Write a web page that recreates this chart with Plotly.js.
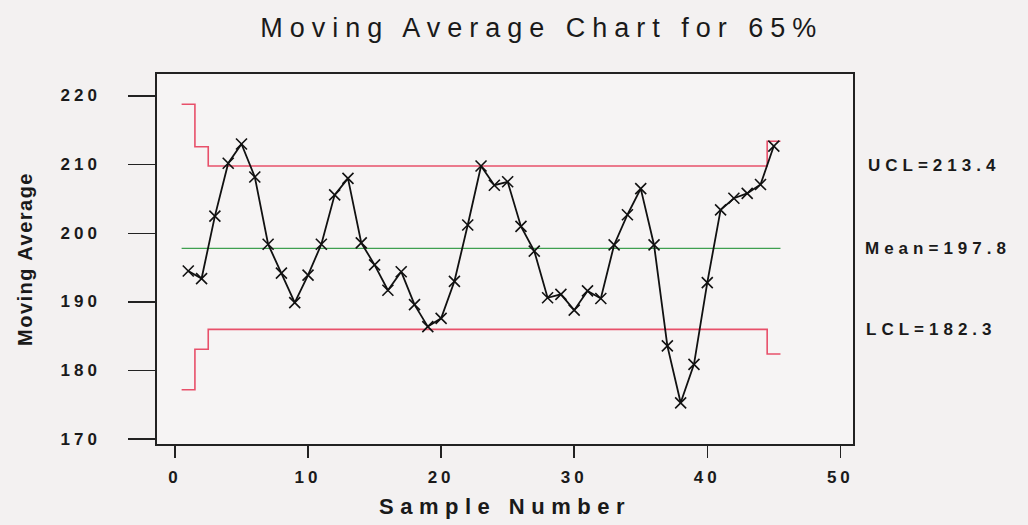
<!DOCTYPE html>
<html>
<head>
<meta charset="utf-8">
<script src="https://cdn.plot.ly/plotly-3.0.1.min.js"></script>
<style>
  html, body { margin: 0; padding: 0; background: #f3f1f1; }
  #chart { width: 1028px; height: 525px; }
  .gtitle { letter-spacing: 7px; }
  .xtick text { letter-spacing: 4px; }
  .g-xtitle text { letter-spacing: 6.5px; }
  .g-ytitle text { letter-spacing: 1.5px; }
  .annotation-text { letter-spacing: 5px; }
  .ylab .annotation-text { letter-spacing: 4px; }
</style>
</head>
<body>
<div id="chart"></div>
<script>
// Moving average values (samples 1..45)
const movingAverage = [
  194.5, 193.4, 202.5, 210.2, 213.0, 208.2, 198.4, 194.2, 189.9, 193.9,
  198.4, 205.6, 208.0, 198.6, 195.4, 191.7, 194.4, 189.6, 186.4, 187.6,
  193.0, 201.2, 209.8, 207.0, 207.5, 201.0, 197.4, 190.6, 191.1, 188.8,
  191.6, 190.5, 198.3, 202.7, 206.5, 198.3, 183.6, 175.3, 180.9, 192.8,
  203.4, 205.1, 205.8, 207.1, 212.7
];
const samples = movingAverage.map((v, i) => i + 1);

// Control limits per sample (step lines)
const uclValues = [218.8, 212.6].concat(new Array(42).fill(209.8)).concat([213.4]);
const lclValues = [177.2, 183.1].concat(new Array(42).fill(186.0)).concat([182.4]);
const meanValue = 197.8;
const uclLabel = 213.4;
const lclLabel = 182.3;

const xTicks = [0, 10, 20, 30, 40, 50];
const yTicks = [170, 180, 190, 200, 210, 220];

// extend step lines half a sample beyond the first/last sample
const stepX = [samples[0] - 0.5].concat(samples, [samples[samples.length - 1] + 0.5]);
const ext = arr => [arr[0]].concat(arr, [arr[arr.length - 1]]);

const red = '#e8506a';
const traces = [
  { x: stepX, y: ext(uclValues), mode: 'lines', line: { color: red, width: 1.6, shape: 'hvh' }, hoverinfo: 'skip' },
  { x: stepX, y: ext(lclValues), mode: 'lines', line: { color: red, width: 1.6, shape: 'hvh' }, hoverinfo: 'skip' },
  { x: [stepX[0], stepX[stepX.length - 1]], y: [meanValue, meanValue], mode: 'lines', line: { color: '#3f9f4f', width: 1.2 }, hoverinfo: 'skip' },
  { x: samples, y: movingAverage, mode: 'lines+markers',
    line: { color: '#111', width: 1.8 },
    marker: { symbol: 'x-thin', size: 11, line: { color: '#111', width: 1.6 } } }
];

const fam = 'Liberation Sans, Arial, sans-serif';
const ink = '#1a1a1a';
const tickFont = { family: fam, size: 17, color: ink, weight: 'bold' };
const labelFont = { family: fam, size: 17, color: ink, weight: 'bold' };

// y tick labels drawn as annotations so they sit well away from the long ticks
const yTickLabels = yTicks.map(v => ({
  text: String(v), xref: 'paper', yref: 'y', x: -0.0765, y: v,
  xanchor: 'right', yanchor: 'middle', showarrow: false, font: tickFont, name: 'ylab',
  templateitemname: undefined
}));

const layout = {
  width: 1028, height: 525,
  paper_bgcolor: '#f3f1f1', plot_bgcolor: '#f6f4f4',
  showlegend: false,
  margin: { l: 157, r: 175, t: 74, b: 81 },
  title: {
    text: 'Moving Average Chart for 65%',
    font: { family: fam, size: 27, color: ink },
    x: 0.527, xref: 'container', xanchor: 'center',
    y: 0.947, yref: 'container', yanchor: 'middle'
  },
  xaxis: {
    range: [-1.35, 50.95],
    tickvals: xTicks, ticktext: xTicks.map(String),
    ticks: 'outside', ticklen: 12, tickwidth: 1.5, tickcolor: '#222',
    ticklabelstandoff: 5,
    showgrid: false, zeroline: false,
    showline: true, linecolor: '#222', linewidth: 2, mirror: true,
    tickfont: tickFont,
    title: { text: 'Sample Number', standoff: 12,
      font: { family: fam, size: 22, color: ink, weight: 'bold' } }
  },
  yaxis: {
    range: [169.3, 223.2],
    tickvals: yTicks,
    showticklabels: false,
    ticks: 'outside', ticklen: 27, tickwidth: 1.5, tickcolor: '#222',
    showgrid: false, zeroline: false,
    showline: true, linecolor: '#222', linewidth: 2, mirror: true,
    title: { text: 'Moving Average', standoff: 90,
      font: { family: fam, size: 20, color: ink, weight: 'bold' } }
  },
  annotations: yTickLabels.concat([
    { text: 'UCL=' + uclLabel, xref: 'paper', yref: 'y', x: 1.018, y: uclValues[2], xanchor: 'left', yanchor: 'middle', showarrow: false, font: labelFont },
    { text: 'Mean=' + meanValue, xref: 'paper', yref: 'y', x: 1.014, y: meanValue, xanchor: 'left', yanchor: 'middle', showarrow: false, font: labelFont },
    { text: 'LCL=' + lclLabel, xref: 'paper', yref: 'y', x: 1.016, y: lclValues[2], xanchor: 'left', yanchor: 'middle', showarrow: false, font: labelFont }
  ])
};

Plotly.newPlot('chart', traces, layout, { displayModeBar: false, staticPlot: true }).then(() => {
  // tighter letter spacing for the y tick label annotations
  document.querySelectorAll('.annotation').forEach((g, i) => {
    if (i < yTicks.length) g.classList.add('ylab');
  });
});
</script>
</body>
</html>
